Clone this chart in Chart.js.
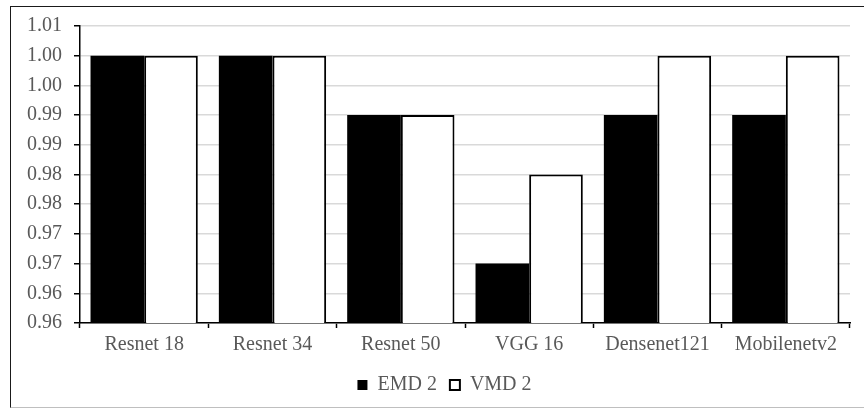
<!DOCTYPE html>
<html>
<head>
<meta charset="utf-8">
<script src="https://cdn.jsdelivr.net/npm/chart.js@4"></script>
<style>
  html, body { margin: 0; padding: 0; background: #ffffff; overflow: hidden; width: 864px; height: 408px; }
  #frame {
    position: absolute; left: 10px; top: 6px;
    width: 880px; height: 400px;
    border-left: 1px solid #1a1a1a; border-top: 1px solid #1a1a1a; border-bottom: 1px solid #bfbfbf;
  }
  #box { position: absolute; left: 0; top: -3px; width: 867px; height: 412px; }
</style>
</head>
<body>
<div id="frame"><div id="box"><canvas id="chart"></canvas></div></div>
<script>
// Models compared
const models = ['Resnet 18', 'Resnet 34', 'Resnet 50', 'VGG 16', 'Densenet121', 'Mobilenetv2'];

// Accuracy per decomposition method
const emd2 = [1.000, 1.000, 0.990, 0.965, 0.990, 0.990];
const vmd2 = [1.000, 1.000, 0.990, 0.980, 1.000, 1.000];

// Value axis ticks and their printed (2-decimal) labels
const yTickValues = [0.955, 0.960, 0.965, 0.970, 0.975, 0.980, 0.985, 0.990, 0.995, 1.000, 1.005];
const yTickLabels = ['0.96', '0.96', '0.97', '0.97', '0.98', '0.98', '0.99', '0.99', '1.00', '1.00', '1.01'];

const FONT = 'Liberation Serif, Times New Roman, serif';
const TEXT = '#595959';

new Chart(document.getElementById('chart'), {
  type: 'bar',
  data: {
    labels: models,
    datasets: [
      {
        label: 'EMD 2',
        data: emd2,
        backgroundColor: '#000000',
        borderColor: '#000000',
        borderWidth: 0
      },
      {
        label: 'VMD 2',
        data: vmd2,
        backgroundColor: '#ffffff',
        borderColor: '#000000',
        borderWidth: 2
      }
    ]
  },
  options: {
    responsive: true,
    maintainAspectRatio: false,
    animation: false,
    datasets: { bar: { categoryPercentage: 0.836, barPercentage: 1.0 } },
    layout: { padding: { left: 11, right: 11, top: 6, bottom: 11 } },
    plugins: {
      tooltip: { enabled: false },
      legend: {
        position: 'bottom',
        labels: {
          boxWidth: 10,
          boxHeight: 10,
          padding: 13,
          color: TEXT,
          font: { family: FONT, size: 20 }
        }
      }
    },
    scales: {
      x: {
        grid: {
          display: true,
          drawOnChartArea: false,
          offset: true,
          tickLength: 5,
          tickColor: '#000000',
          tickWidth: 1.5
        },
        border: { color: '#000000', width: 1.5 },
        ticks: { color: TEXT, padding: 5, maxRotation: 0, font: { family: FONT, size: 20 } }
      },
      y: {
        min: 0.955,
        max: 1.005,
        afterBuildTicks: (scale) => {
          scale.ticks = yTickValues.map(v => ({ value: v }));
        },
        afterFit: (scale) => { scale.width = 58; },
        grid: {
          color: '#d9d9d9',
          lineWidth: 1.5,
          tickLength: 6,
          tickColor: '#000000',
          tickWidth: 1.5
        },
        border: { color: '#000000', width: 1.5 },
        ticks: {
          color: TEXT,
          padding: 12,
          font: { family: FONT, size: 20, lineHeight: 1.0 },
          callback: (value, index) => yTickLabels[index]
        }
      },
      // empty margin on the right of the plot
      yRight: {
        position: 'right',
        display: true,
        min: 0.955,
        max: 1.005,
        afterFit: (scale) => { scale.width = 17; },
        grid: { display: false, drawOnChartArea: false, drawTicks: false },
        border: { display: false },
        ticks: { display: false }
      }
    }
  }
});
</script>
</body>
</html>
